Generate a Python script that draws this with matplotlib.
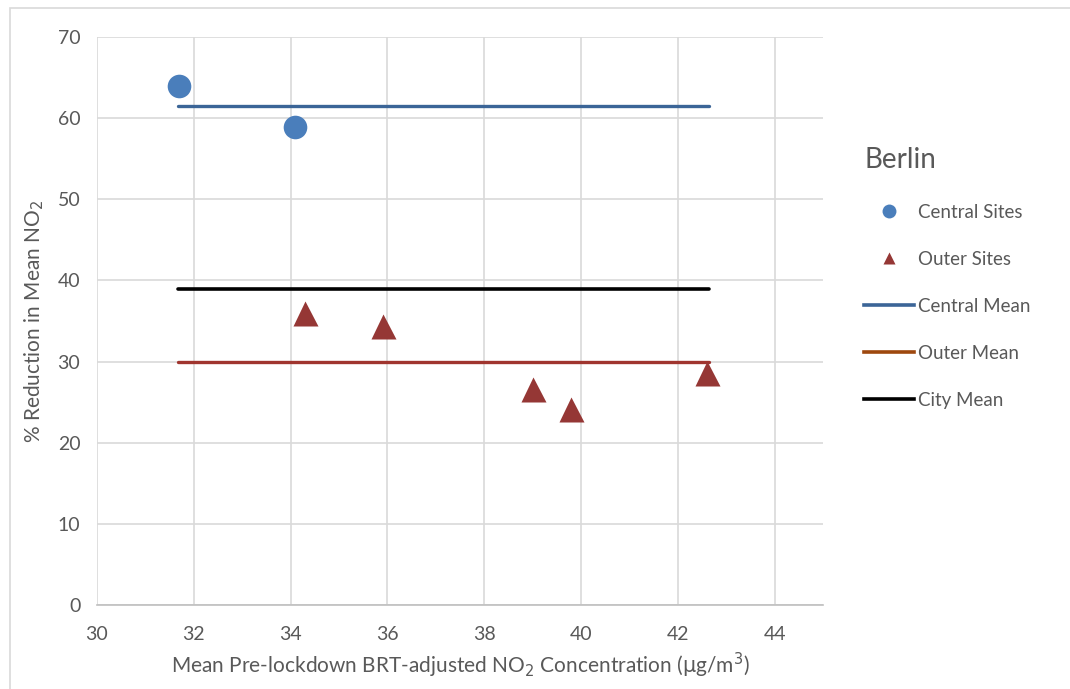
import numpy as np
import matplotlib.pyplot as plt
from matplotlib.lines import Line2D
from matplotlib.patches import Rectangle

plt.rcParams["font.family"] = ["Lato", "DejaVu Sans"]

# data
central_x = [31.7, 34.1]
central_y = [64.0, 58.9]
outer_x = [34.3, 35.9, 39.0, 39.8, 42.6]
outer_y = [36.0, 34.4, 26.6, 24.1, 28.6]
mean_x = [31.67, 42.64]
central_mean = 61.5
outer_mean = 30.0
city_mean = 39.0

xticks = [30, 32, 34, 36, 38, 40, 42, 44]
yticks = [0, 10, 20, 30, 40, 50, 60, 70]

txt = "#595959"
grid = "#d9d9d9"

fig = plt.figure(figsize=(10.7, 6.89), dpi=100)
ax = fig.add_axes([97 / 1070, 84 / 689, 726 / 1070, 568 / 689])

# outer frame of the chart area
fig.patches.append(Rectangle((10 / 1070, -0.05), 1.1, 1 - 8 / 689 + 0.05,
                             transform=fig.transFigure, fill=False,
                             edgecolor="#d9d9d9", lw=1.2))

ax.plot(mean_x, [central_mean] * 2, color="#3b6597", lw=2.4, solid_capstyle="round", zorder=2)
ax.plot(mean_x, [city_mean] * 2, color="black", lw=2.6, solid_capstyle="round", zorder=2)
ax.plot(mean_x, [outer_mean] * 2, color="#a0352f", lw=2.4, solid_capstyle="round", zorder=2)
ax.plot(central_x, central_y, "o", color="#4a7ebb", ms=17, mec="none", zorder=3)
ax.plot(outer_x, outer_y, "^", color="#953735", ms=18, mec="none", zorder=3)

ax.set_xlim(30, 45)
ax.set_ylim(0, 70)
ax.set_xticks(xticks)
ax.set_yticks(yticks)
ax.grid(True, color=grid, lw=1.2)
ax.set_axisbelow(True)
for s in ["top", "right", "left"]:
    ax.spines[s].set_visible(False)
ax.spines["bottom"].set_color("#bfbfbf")
ax.spines["bottom"].set_linewidth(1.2)
ax.tick_params(length=0, labelsize=14, labelcolor=txt)
ax.tick_params(axis="x", pad=15)
ax.tick_params(axis="y", pad=12)

ax.set_xlabel(r"Mean Pre-lockdown BRT-adjusted NO$_2$ Concentration ($\mathrm{\mu}$g/m$^3$)",
              fontsize=15, color=txt, labelpad=6)
ax.set_ylabel(r"% Reduction in Mean NO$_2$", fontsize=15, color=txt, labelpad=8)

handles = [
    Line2D([], [], ls="none", marker="o", ms=10, color="#4a7ebb", mec="none"),
    Line2D([], [], ls="none", marker="^", ms=9, color="#953735", mec="none"),
    Line2D([], [], color="#3b6597", lw=2.6),
    Line2D([], [], color="#9e480e", lw=2.6),
    Line2D([], [], color="black", lw=2.6),
]
labels = ["Central Sites", "Outer Sites", "Central Mean", "Outer Mean", "City Mean"]
leg = ax.legend(handles, labels, title="Berlin", loc="upper left",
                bbox_to_anchor=(855 / 1070, (689 - 138) / 689),
                bbox_transform=fig.transFigure, frameon=False,
                fontsize=13.5, labelcolor=txt, handlelength=2.65, handletextpad=0.2,
                labelspacing=1.6, alignment="left", borderpad=0)
leg.get_title().set_fontsize(20)
leg.get_title().set_color(txt)
leg._legend_box.sep = 22

fig.savefig("out.png", dpi=100)
